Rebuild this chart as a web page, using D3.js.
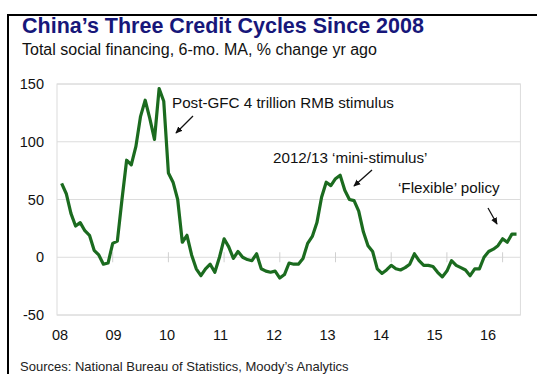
<!DOCTYPE html>
<html><head><meta charset="utf-8">
<script src="https://cdn.jsdelivr.net/npm/d3@7"></script>
<style>
body{margin:0;background:#fff;}
svg{display:block;font-family:"Liberation Sans",Arial,sans-serif;}
</style></head>
<body>
<svg id="c" width="541" height="374"></svg>
<script>
// Monthly values, Jan 2008 .. Mar 2016 (% change yr ago, 6-mo. MA)
const startYear = 2008;
const values = [
  64,55,38,27,30,23,19,6,2,-6,-5,12,
  14,50,84,80,96,122,136,120,102,146,135,73,
  65,50,13,19,2,-10,-16,-10,-6,-13,0,16,
  9,-1,5,0,-2,-3,3,-10,-12,-13,-12,-18,
  -15,-5,-6,-6,-1,12,18,30,52,65,62,68,
  71,58,50,49,40,22,10,5,-10,-14,-11,-7,
  -10,-11,-9,-6,3,-3,-7,-7,-8,-13,-17,-12,
  -3,-7,-9,-11,-16,-10,-10,0,5,7,10,16,
  13,20,20
];
const yTicks = [-50, 0, 50, 100, 150];
const yearTicks = [2009, 2010, 2011, 2012, 2013, 2014, 2015, 2016];
const xLabels = ["08","09","10","11","12","13","14","15","16"];
const annotations = [
  {text:"Post-GFC 4 trillion RMB stimulus", tx:172, ty:103, ax1:193, ay1:116, ax2:176, ay2:133},
  {text:"2012/13 \u2018mini-stimulus\u2019", tx:273, ty:158, ax1:372, ay1:170, ax2:354, ay2:186},
  {text:"\u2018Flexible\u2019 policy", tx:398, ty:188, ax1:488, ay1:208, ax2:497, ay2:224}
];

const svg = d3.select("#c");
const pLeft = 57, pTop = 84, pBottom = 315;
const x = d3.scaleLinear().domain([2008, 2016]).range([pLeft, 502.6]);
const pRight = x(2016.32);
const y = d3.scaleLinear().domain([-50, 150]).range([pBottom, pTop]);
const xl = d3.scalePoint().domain(xLabels).range([60, 488]);

const defs = svg.append("defs");
defs.append("marker").attr("id","ah").attr("viewBox","0 0 10 10").attr("refX",8).attr("refY",5)
  .attr("markerWidth",6).attr("markerHeight",6).attr("orient","auto")
  .append("path").attr("d","M0,1 L9,5 L0,9 z").attr("fill","#111");

// frame
svg.append("path").attr("d","M8,374 L8,15 L537,15").attr("fill","none").attr("stroke","#000").attr("stroke-width",2);

// title
svg.append("text").attr("x",22).attr("y",33).attr("font-size",21.5).attr("font-weight","bold")
  .attr("fill","#17177a").text("China\u2019s Three Credit Cycles Since 2008");
svg.append("text").attr("x",22).attr("y",55).attr("font-size",16).attr("fill","#111")
  .text("Total social financing, 6-mo. MA, % change yr ago");

// plot border + gridlines
svg.append("rect").attr("x",pLeft).attr("y",pTop).attr("width",pRight-pLeft).attr("height",pBottom-pTop)
  .attr("fill","none").attr("stroke","#dcdcdc");
svg.append("g").selectAll("line").data(yTicks).join("line")
  .attr("x1",pLeft).attr("x2",pRight).attr("y1",d=>y(d)).attr("y2",d=>y(d))
  .attr("stroke","#dcdcdc");
svg.append("g").selectAll("line").data(yearTicks).join("line")
  .attr("x1",d=>x(d)).attr("x2",d=>x(d)).attr("y1",y(0)-5).attr("y2",y(0)+5)
  .attr("stroke","#d0d0d0");

// y labels
svg.append("g").selectAll("text").data(yTicks).join("text")
  .attr("x",44).attr("y",d=>y(d)).attr("dy","0.35em").attr("text-anchor","end")
  .attr("font-size",14.5).attr("fill","#111").text(d=>d);
// x labels
svg.append("g").selectAll("text").data(xLabels).join("text")
  .attr("x",d=>xl(d)).attr("y",340).attr("text-anchor","middle")
  .attr("font-size",14.5).attr("fill","#111").text(d=>d);

// line
const line = d3.line().x((d,i)=>x(startYear + (i+1)/12)).y(d=>y(d));
svg.append("path").datum(values).attr("d",line).attr("fill","none")
  .attr("stroke","#1b6b1f").attr("stroke-width",3.2).attr("stroke-linejoin","round");

// annotations
const ag = svg.append("g");
annotations.forEach(a=>{
  ag.append("text").attr("x",a.tx).attr("y",a.ty).attr("dy","0.35em").attr("font-size",15.2)
    .attr("fill","#111").text(a.text);
  ag.append("line").attr("x1",a.ax1).attr("y1",a.ay1).attr("x2",a.ax2).attr("y2",a.ay2)
    .attr("stroke","#111").attr("stroke-width",1.3).attr("marker-end","url(#ah)");
});

// source
svg.append("text").attr("x",20).attr("y",371).attr("font-size",13).attr("fill","#222")
  .text("Sources: National Bureau of Statistics, Moody\u2019s Analytics");
</script>
</body></html>
